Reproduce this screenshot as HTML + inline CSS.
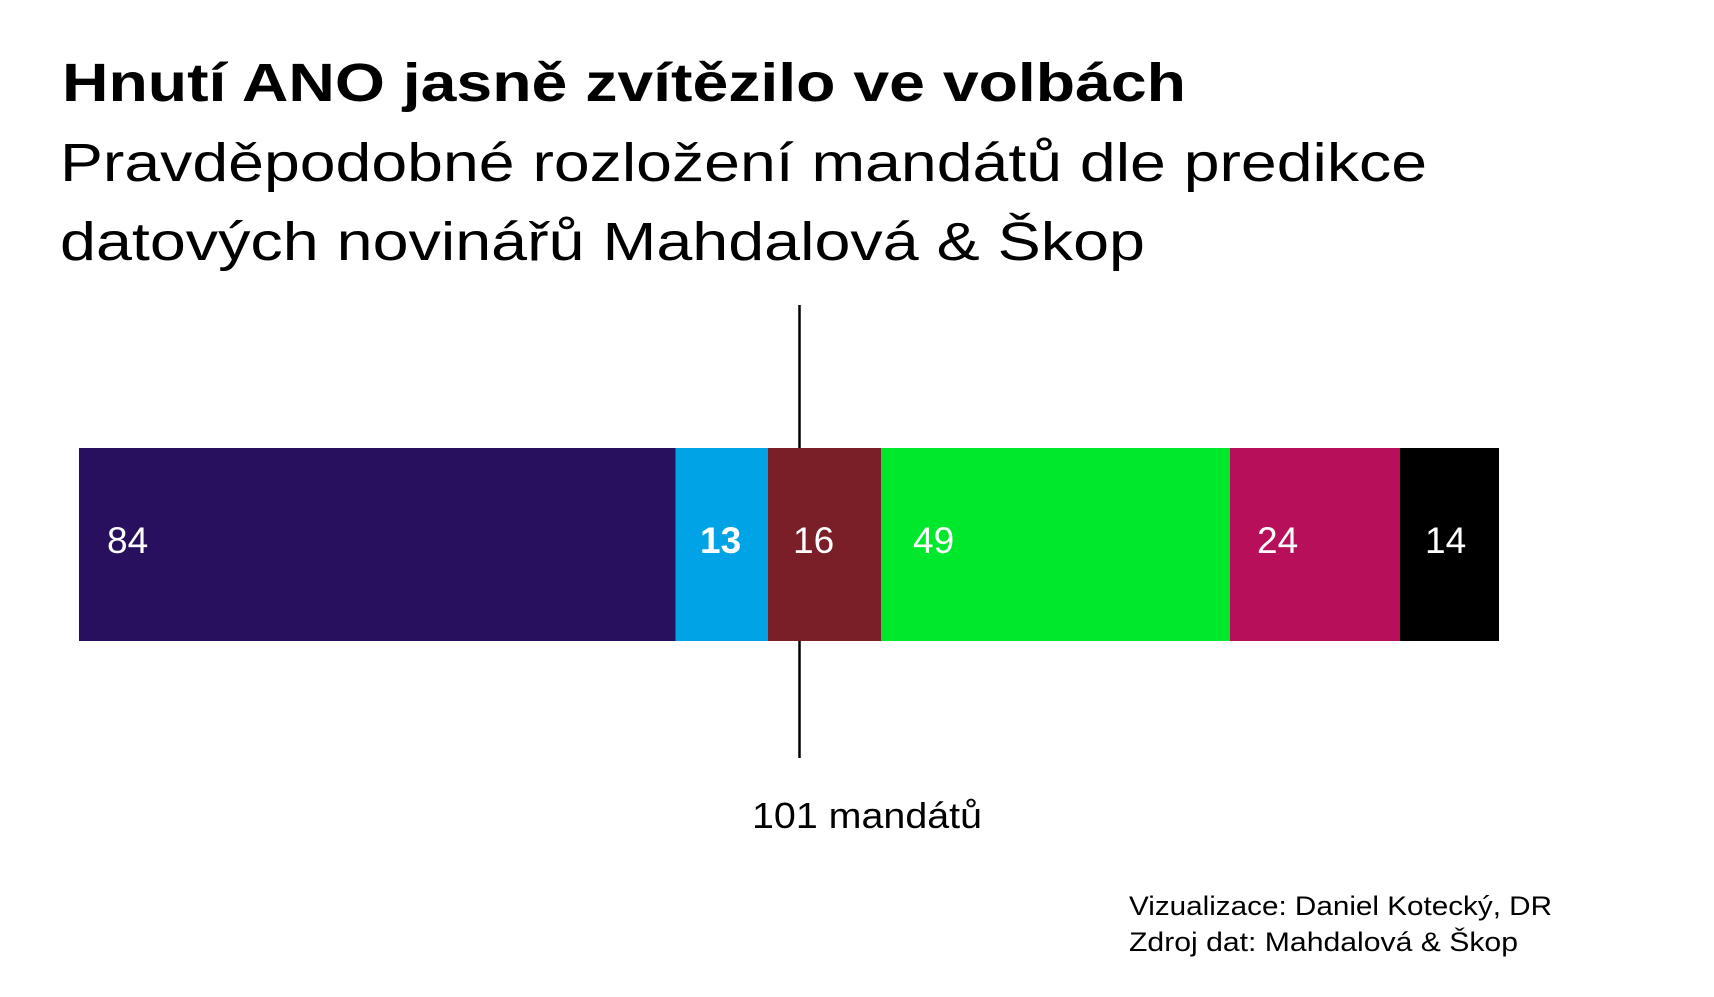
<!DOCTYPE html>
<html><head><meta charset="utf-8"><style>
html,body{margin:0;padding:0;background:#fff;}
svg{display:block}
text{font-family:"Liberation Sans",sans-serif;}
</style></head><body>
<svg width="1714" height="997" viewBox="0 0 1714 997" xmlns="http://www.w3.org/2000/svg">
<rect width="1714" height="997" fill="#fff"/>
<text x="62" y="101" font-size="54" font-weight="bold" fill="#000" textLength="1124" lengthAdjust="spacingAndGlyphs">Hnutí ANO jasně zvítězilo ve volbách</text>
<text x="60" y="181" font-size="54" fill="#000" textLength="1367" lengthAdjust="spacingAndGlyphs">Pravděpodobné rozložení mandátů dle predikce</text>
<text x="60" y="260" font-size="54" fill="#000" textLength="1085" lengthAdjust="spacingAndGlyphs">datových novinářů Mahdalová &amp; Škop</text>
<line x1="799.5" y1="305" x2="799.5" y2="758" stroke="#000" stroke-width="2.5"/>
<rect x="79" y="448" width="597" height="193" fill="#28105f"/>
<rect x="675.5" y="448" width="93" height="193" fill="#00a3e5"/>
<rect x="768" y="448" width="114" height="193" fill="#7a1f27"/>
<rect x="881" y="448" width="350" height="193" fill="#00e82c"/>
<rect x="1230" y="448" width="171" height="193" fill="#b80f5b"/>
<rect x="1400" y="448" width="99" height="193" fill="#000"/>
<g font-size="37" fill="#fff">
<text x="107" y="553">84</text>
<text x="700" y="553" font-weight="bold">13</text>
<text x="793" y="553">16</text>
<text x="913" y="553">49</text>
<text x="1257" y="553">24</text>
<text x="1425" y="553">14</text>
</g>
<text x="752" y="828" font-size="36" fill="#000" textLength="230" lengthAdjust="spacingAndGlyphs">101 mandátů</text>
<text x="1129" y="915" font-size="27" fill="#000" textLength="423" lengthAdjust="spacingAndGlyphs">Vizualizace: Daniel Kotecký, DR</text>
<text x="1129" y="951" font-size="27" fill="#000" textLength="389" lengthAdjust="spacingAndGlyphs">Zdroj dat: Mahdalová &amp; Škop</text>
</svg>
</body></html>
